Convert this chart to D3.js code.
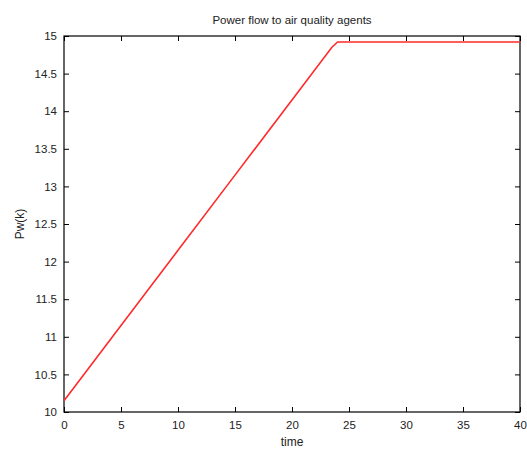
<html>
<head>
<meta charset="utf-8">
<script src="https://d3js.org/d3.v7.min.js"></script>
<style>
body { margin: 0; background: #fff; }
text { font-family: "Liberation Sans", Arial, Helvetica, sans-serif; fill: #222; }
.axis path, .axis line { stroke: #000; }
</style>
</head>
<body>
<svg width="527" height="456"></svg>
<script>

// values
var times  = [0, 5, 10, 15, 20, 23.5, 24, 25, 30, 35, 40];
var power  = [10.15, 11.15, 12.15, 13.15, 14.15, 14.85, 14.92, 14.92, 14.92, 14.92, 14.92];
var xTicks = [0, 5, 10, 15, 20, 25, 30, 35, 40];
var yTicks = [10, 10.5, 11, 11.5, 12, 12.5, 13, 13.5, 14, 14.5, 15];

var svg = d3.select("svg"),
    margin = {top: 36, right: 7, bottom: 44, left: 64},
    width = +svg.attr("width") - margin.left - margin.right,
    height = +svg.attr("height") - margin.top - margin.bottom;

var g = svg.append("g").attr("transform", "translate(" + margin.left + "," + margin.top + ")");

var x = d3.scaleLinear().domain([0, 40]).range([0, width]);
var y = d3.scaleLinear().domain([10, 15]).range([height, 0]);

var data = times.map(function(t, i) { return {t: t, v: power[i]}; });

// frame
g.append("rect")
    .attr("width", width).attr("height", height)
    .attr("fill", "none").attr("stroke", "#000").attr("stroke-width", 1.2);

// inward ticks, MATLAB style
g.append("g").attr("class", "axis")
    .attr("transform", "translate(0," + height + ")")
    .call(d3.axisBottom(x).tickValues(xTicks).tickSize(-5).tickPadding(9).tickFormat(d3.format("d")))
    .call(a => a.select(".domain").remove())
    .selectAll("text").style("font-size", "11.5px");

g.append("g").attr("class", "axis")
    .call(d3.axisTop(x).tickValues(xTicks).tickSize(-5).tickFormat(""))
    .call(a => a.select(".domain").remove());

g.append("g").attr("class", "axis")
    .call(d3.axisLeft(y).tickValues(yTicks).tickSize(-5).tickPadding(7).tickFormat(d3.format("")))
    .call(a => a.select(".domain").remove())
    .selectAll("text").style("font-size", "11.5px");

g.append("g").attr("class", "axis")
    .attr("transform", "translate(" + width + ",0)")
    .call(d3.axisRight(y).tickValues(yTicks).tickSize(-5).tickFormat(""))
    .call(a => a.select(".domain").remove());

var line = d3.line().x(d => x(d.t)).y(d => y(d.v));

g.append("path")
    .datum(data)
    .attr("d", line)
    .attr("fill", "none")
    .attr("stroke", "#ff2a2a")
    .attr("stroke-width", 1.6);

// labels
svg.append("text")
    .attr("x", margin.left + width / 2).attr("y", 24)
    .attr("text-anchor", "middle")
    .style("font-size", "11.5px")
    .text("Power flow to air quality agents");

svg.append("text")
    .attr("x", margin.left + width / 2).attr("y", 446)
    .attr("text-anchor", "middle")
    .style("font-size", "12px")
    .text("time");

svg.append("text")
    .attr("transform", "translate(24," + (margin.top + height / 2) + ") rotate(-90)")
    .attr("text-anchor", "middle")
    .style("font-size", "12px")
    .text("Pw(k)");

</script>
</body>
</html>
